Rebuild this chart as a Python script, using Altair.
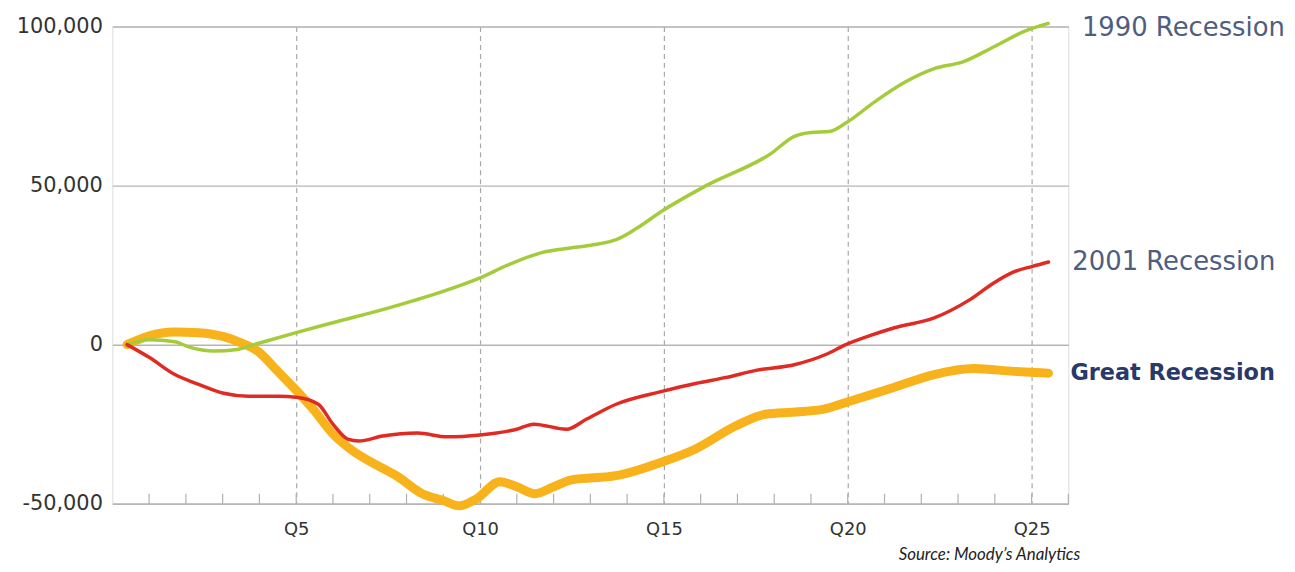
import altair as alt
import pandas as pd

# ---- data ----
q_1990 = [0.4, 1.0, 1.7, 2.1, 2.75, 3.4, 3.85, 5.0, 6.1, 7.5, 8.85, 10.0, 10.75, 11.7, 12.6,
          13.7, 14.25, 14.95, 16.15, 17.9, 18.55, 19.0, 19.5, 19.95, 20.75, 21.55, 22.35,
          23.15, 23.95, 24.8, 25.45]
v_1990 = [0, 1500, 900, -800, -2000, -1500, 0, 3800, 7200, 11500, 16200, 21000, 25000, 29000,
          30600, 33000, 36500, 42000, 50000, 60000, 65500, 66700, 67000, 69700, 76500, 82500,
          86800, 89000, 93500, 98500, 101000]

q_2001 = [0.4, 1.0, 1.7, 2.35, 3.03, 3.7, 4.5, 5.05, 5.6, 6.0, 6.4, 6.7, 7.35, 8.3, 9.1, 10.0,
          11.0, 11.46, 12.35, 12.9, 13.7, 14.95, 15.86, 16.7, 17.5, 18.57, 19.4, 19.95, 20.6,
          21.27, 22.35, 23.3, 23.97, 24.5, 25.05, 25.46]
v_2001 = [0, -4000, -9400, -12500, -15300, -16250, -16250, -16600, -18750, -25000, -29700,
          -30300, -28750, -27800, -29000, -28400, -26600, -25000, -26600, -23400, -18750,
          -14700, -12200, -10300, -8100, -6250, -3100, 0, 2800, 5300, 8400, 14000, 19400,
          22800, 24700, 26000]

q_great = [0.4, 1.0, 1.68, 2.35, 3.03, 3.43, 3.97, 4.5, 4.97, 5.46, 6.0, 6.54, 7.08, 7.76,
           8.43, 9.0, 9.43, 9.9, 10.54, 11.0, 11.49, 12.0, 12.49, 13.7, 14.95, 15.86, 16.95,
           17.76, 18.57, 19.35, 20.05, 21.27, 22.35, 23.43, 24.51, 25.46]
v_great = [0, 2800, 4000, 3750, 2500, 900, -2200, -8400, -14000, -20300, -28100, -33400,
           -37200, -41500, -46900, -49000, -50700, -48500, -43100, -44700, -46900, -44700,
           -42500, -41200, -36900, -32800, -25600, -21900, -21200, -20300, -17800, -13400,
           -9400, -7500, -8400, -9000]

series_names = ["1990 Recession", "2001 Recession", "Great Recession"]
series_colors = ["#a4cc3a", "#e02a22", "#f8b21c"]
series_widths = [3.5, 3.5, 9]
label_colors = ["#4e5d80", "#4e5d80", "#29396a"]

y_ticks = [-50000, 0, 50000, 100000]
x_ticks = [5, 10, 15, 20, 25]
minor_ticks = list(range(1, 27))
source_text = "Source: Moody\u2019s Analytics"

W, H = 962, 480
FONT = "DejaVu Sans"

frames = []
for name, qs, vs in [(series_names[0], q_1990, v_1990),
                     (series_names[1], q_2001, v_2001),
                     (series_names[2], q_great, v_great)]:
    frames.append(pd.DataFrame({"series": name, "q": qs, "v": vs}))
df = pd.concat(frames, ignore_index=True)

xs = alt.Scale(domain=[0, 26], nice=False, zero=False)
ys = alt.Scale(domain=[-50000, 100000], nice=False, zero=False)

X_AXIS = alt.Axis(values=x_ticks, labelExpr="'Q' + datum.value", grid=True,
                  gridDash=[5, 4], gridColor="#a8a8a8", gridWidth=1.2,
                  ticks=False, labelPadding=17, domain=True, domainColor="#b5b5b5",
                  domainWidth=1.5, labelFont=FONT, labelFontSize=18, labelColor="#333333")
Y_AXIS = alt.Axis(values=y_ticks,
                  labelExpr="replace(format(datum.value, ','), '\u2212', '-')",
                  grid=True, gridColor="#b5b5b5", gridWidth=1.5, ticks=False, domain=False,
                  labelPadding=10, labelFont=FONT, labelFontSize=21, labelColor="#333333")


def X():
    return alt.X("q:Q", scale=xs, title=None, axis=X_AXIS)


def Y():
    return alt.Y("v:Q", scale=ys, title=None, axis=Y_AXIS)


base_axes = alt.Chart(pd.DataFrame({"q": [0], "v": [0]})).mark_point(opacity=0).encode(
    x=X(), y=Y())

ticks = alt.Chart(pd.DataFrame({"q": minor_ticks})).mark_rule(
    color="#b0b0b0", strokeWidth=1.2
).encode(x=X(), y=alt.value(H - 10), y2=alt.value(H))

layers = [base_axes, ticks]
order = [2, 0, 1]
for i in order:
    name = series_names[i]
    layers.append(
        alt.Chart(df[df.series == name]).mark_line(
            color=series_colors[i], strokeWidth=series_widths[i], interpolate="monotone",
            strokeCap="round", strokeJoin="round"
        ).encode(x=X(), y=Y())
    )

label_dx = [34, 24, 22]
label_dy = [5, 0, 0]
label_size = [26, 26, 22.5]
label_weight = ["normal", "normal", "bold"]
last = df.groupby("series").tail(1)
for i, name in enumerate(series_names):
    layers.append(
        alt.Chart(last[last.series == name]).mark_text(
            align="left", baseline="middle", dx=label_dx[i], dy=label_dy[i],
            font=FONT, fontSize=label_size[i], fontWeight=label_weight[i],
            color=label_colors[i]
        ).encode(x=X(), y=Y(), text="series:N")
    )

layers.append(
    alt.Chart(pd.DataFrame({"t": [source_text]})).mark_text(
        align="right", baseline="alphabetic", font="Lato", fontStyle="italic",
        fontSize=17, color="#222222"
    ).encode(x=alt.value(974), y=alt.value(H + 57), text="t:N")
)

chart = alt.layer(*layers).properties(
    width=W, height=H,
    autosize=alt.AutoSizeParams(type="none"),
    padding={"left": 105, "top": 17, "right": 220, "bottom": 59},
).configure_view(stroke=None).configure(background="white")

chart.save("out.html", embed_options={"renderer": "svg", "actions": False})
